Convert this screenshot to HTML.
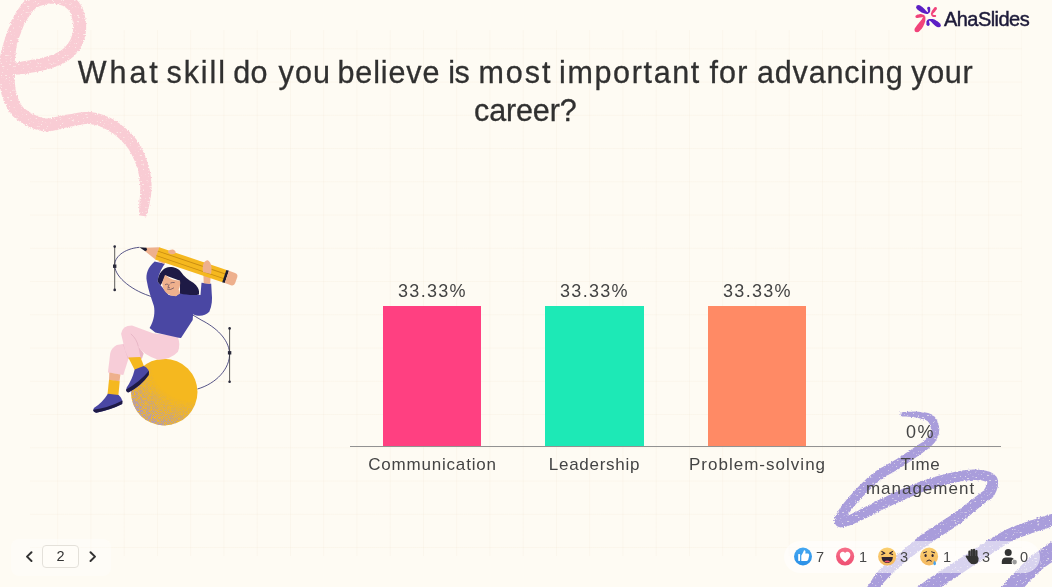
<!DOCTYPE html>
<html lang="en">
<head>
<meta charset="utf-8">
<title>What skill do you believe is most important for advancing your career?</title>
<style>
  html,body{margin:0;padding:0;}
  body{width:1052px;height:587px;overflow:hidden;background:#fefbf3;position:relative;
       font-family:"Liberation Sans",sans-serif;color:#333;}
  .grid{position:absolute;left:30px;top:30px;width:992px;height:526px;
        background-image:linear-gradient(to right,rgba(238,222,200,.17) 1px,transparent 1px),
                         linear-gradient(to bottom,rgba(238,222,200,.17) 1px,transparent 1px);
        background-size:33.25px 33.25px;background-position:-6.05px 18.3px;}
  svg.art{position:absolute;left:0;top:0;}
  h1,.logo,.val,.lab,.cnt,.pbox{will-change:transform;}
  h1{position:absolute;left:0;top:0;width:1052px;height:140px;margin:0;font-weight:400;font-size:30.5px;line-height:36px;color:#303030;-webkit-text-stroke:0.3px #303030;}
  h1 .w{position:absolute;white-space:nowrap;}
  h1 .r1{top:53.8px;}
  h1 .r2{top:91.8px;}
  .logo{position:absolute;left:944px;top:7.6px;font-size:20px;line-height:22px;letter-spacing:-0.55px;color:#1d1a39;
        -webkit-text-stroke:0.45px #1d1a39;}
  .axis{position:absolute;left:350px;top:446px;width:651px;height:1px;background:#929292;}
  .bar{position:absolute;top:306px;width:98.5px;height:140px;}
  .val{position:absolute;width:163px;text-align:center;font-size:18px;line-height:20px;letter-spacing:1.3px;color:#444;}
  .lab{position:absolute;width:163px;text-align:center;font-size:17px;line-height:23.5px;letter-spacing:.6px;color:#444;top:453px;}
  .pager{position:absolute;left:11px;top:539px;width:100px;height:37px;border-radius:8px;background:rgba(255,255,255,.35);}
  .pbox{position:absolute;left:42.3px;top:545.2px;width:37px;height:22.6px;border:1px solid #e4e1da;border-radius:4px;background:#fffdf8;
        box-sizing:border-box;text-align:center;font-size:14.5px;line-height:21px;color:#333;}
  .react{position:absolute;left:784px;top:541px;width:256px;height:32px;border-radius:16px;background:rgba(255,255,255,.55);}
  .cnt{position:absolute;top:548.5px;font-size:14.5px;line-height:17px;color:#484848;}
</style>
</head>
<body>
<div class="grid"></div>

<svg class="art" width="1052" height="587" viewBox="0 0 1052 587">
  <defs>
    <radialGradient id="ballshade" gradientUnits="userSpaceOnUse" cx="190" cy="362" r="74">
      <stop offset="0.52" stop-color="#000"/>
      <stop offset="0.8" stop-color="#999"/>
      <stop offset="0.97" stop-color="#fff"/>
    </radialGradient>
    <mask id="ballmask" maskUnits="userSpaceOnUse" x="130" y="358" width="70" height="70"><rect x="130" y="358" width="70" height="70" fill="url(#ballshade)"/></mask>
    <filter id="grain" x="0" y="0" width="100%" height="100%">
      <feTurbulence type="fractalNoise" baseFrequency="1.3" numOctaves="1" seed="4" result="n"/>
      <feColorMatrix in="n" type="matrix" values="0 0 0 0 0.40  0 0 0 0 0.31  0 0 0 0 0.56  5 0 0 0 -1.9"/>
    </filter>
    <clipPath id="ballclip"><circle cx="164.2" cy="392.1" r="33.3"/></clipPath>
    <filter id="rough" x="-5%" y="-5%" width="110%" height="110%">
      <feTurbulence type="fractalNoise" baseFrequency="0.7" numOctaves="2" seed="3" result="n"/>
      <feDisplacementMap in="SourceGraphic" in2="n" scale="3" xChannelSelector="R" yChannelSelector="G" result="d"/>
      <feTurbulence type="fractalNoise" baseFrequency="0.4 0.65" numOctaves="2" seed="11" result="n2"/>
      <feColorMatrix in="n2" type="matrix" values="0 0 0 0 0  0 0 0 0 0  0 0 0 0 0  -9 0 0 0 6.9" result="h0"/>
      <feComponentTransfer in="h0" result="holes"><feFuncA type="linear" slope="0.6" intercept="0.4"/></feComponentTransfer>
      <feComposite in="d" in2="holes" operator="in"/>
    </filter>
  </defs>
  <!-- pink swirl -->
  <path d="M 11.8 75.0 L 12.4 74.9 L 13.1 74.9 L 13.9 74.8 L 14.8 74.8 L 15.8 74.7 L 17.0 74.6 L 18.2 74.5 L 19.5 74.4 L 20.9 74.3 L 22.4 74.1 L 23.9 73.9 L 25.4 73.7 L 27.0 73.4 L 28.7 73.1 L 30.5 72.8 L 32.4 72.5 L 34.5 72.2 L 36.5 71.8 L 38.6 71.4 L 40.7 71.0 L 42.8 70.5 L 44.8 70.0 L 46.8 69.5 L 48.6 69.0 L 50.4 68.5 L 52.1 67.9 L 53.8 67.4 L 55.5 66.8 L 57.2 66.2 L 58.8 65.5 L 60.5 64.8 L 62.1 64.1 L 63.7 63.3 L 65.2 62.5 L 66.8 61.6 L 68.2 60.7 L 69.7 59.6 L 71.0 58.6 L 72.3 57.5 L 73.6 56.4 L 74.8 55.2 L 75.9 54.0 L 77.0 52.8 L 78.1 51.5 L 79.1 50.2 L 80.0 48.8 L 80.8 47.4 L 81.6 46.0 L 82.4 44.6 L 83.0 43.1 L 83.7 41.6 L 84.2 40.1 L 84.7 38.5 L 85.1 36.9 L 85.4 35.4 L 85.7 33.7 L 85.9 32.1 L 86.1 30.5 L 86.2 28.8 L 86.2 27.2 L 86.2 25.5 L 86.1 23.8 L 85.9 22.0 L 85.7 20.2 L 85.4 18.4 L 85.0 16.6 L 84.6 14.8 L 84.2 13.0 L 83.7 11.3 L 83.1 9.6 L 82.4 8.0 L 81.7 6.4 L 80.8 4.9 L 79.9 3.5 L 78.9 2.2 L 77.9 1.0 L 76.8 -0.1 L 75.6 -1.2 L 74.5 -2.1 L 73.3 -3.0 L 72.1 -3.8 L 70.9 -4.5 L 69.7 -5.2 L 68.5 -5.8 L 67.1 -6.5 L 65.7 -7.0 L 64.3 -7.5 L 62.8 -7.9 L 61.4 -8.3 L 60.0 -8.6 L 58.5 -8.8 L 57.1 -9.0 L 55.7 -9.1 L 54.3 -9.2 L 52.9 -9.3 L 51.5 -9.3 L 50.0 -9.3 L 48.5 -9.2 L 47.1 -9.0 L 45.6 -8.8 L 44.2 -8.6 L 42.8 -8.3 L 41.4 -8.0 L 40.1 -7.6 L 38.8 -7.3 L 37.5 -6.9 L 36.3 -6.5 L 35.2 -6.1 L 34.2 -5.7 L 33.2 -5.3 L 32.2 -4.8 L 31.3 -4.4 L 30.3 -3.8 L 29.4 -3.3 L 28.5 -2.6 L 27.6 -2.0 L 26.8 -1.3 L 26.0 -0.5 L 25.2 0.3 L 24.3 1.2 L 23.4 2.2 L 22.5 3.3 L 21.6 4.4 L 20.7 5.6 L 19.8 6.9 L 19.0 8.1 L 18.1 9.4 L 17.3 10.7 L 16.5 11.9 L 15.7 13.1 L 15.0 14.3 L 14.4 15.5 L 13.7 16.6 L 13.2 17.7 L 12.6 18.8 L 12.1 19.8 L 11.7 20.8 L 11.2 21.8 L 10.8 22.8 L 10.4 23.8 L 10.1 24.8 L 9.7 25.7 L 9.3 26.7 L 8.9 27.7 L 8.5 28.7 L 8.1 29.8 L 7.7 30.9 L 7.3 32.0 L 6.9 33.1 L 6.5 34.3 L 6.0 35.4 L 5.6 36.6 L 5.2 37.8 L 4.8 39.0 L 4.5 40.2 L 4.1 41.3 L 3.7 42.5 L 3.4 43.6 L 3.0 44.8 L 2.7 45.9 L 2.4 47.0 L 2.0 48.1 L 1.7 49.3 L 1.4 50.4 L 1.2 51.5 L 0.9 52.7 L 0.6 53.9 L 0.4 55.1 L 0.2 56.3 L -0.1 57.5 L -0.3 58.8 L -0.5 60.1 L -0.7 61.4 L -0.9 62.8 L -1.1 64.2 L -1.2 65.6 L -1.3 67.0 L -1.4 68.3 L -1.5 69.7 L -1.5 71.1 L -1.5 72.5 L -1.5 73.8 L -1.4 75.1 L -1.3 76.4 L -1.2 77.6 L -1.0 78.8 L -0.8 80.0 L -0.6 81.2 L -0.5 82.3 L -0.3 83.3 L -0.1 84.4 L 0.1 85.3 L 0.2 86.2 L 0.3 87.1 L 0.4 88.0 L 0.5 88.9 L 0.7 89.9 L 0.8 91.0 L 1.0 92.1 L 1.3 93.3 L 1.6 94.6 L 2.0 95.9 L 2.5 97.3 L 3.0 98.6 L 3.5 99.8 L 4.1 101.1 L 4.6 102.5 L 5.2 104.0 L 6.0 105.6 L 6.8 107.3 L 7.7 109.1 L 8.7 110.9 L 10.0 112.7 L 11.3 114.4 L 12.9 116.2 L 14.6 117.8 L 16.4 119.2 L 18.3 120.6 L 20.4 121.9 L 22.5 123.3 L 24.7 124.6 L 27.1 125.8 L 29.4 126.9 L 31.9 128.0 L 34.3 129.0 L 36.8 129.8 L 39.3 130.5 L 41.8 131.0 L 44.4 131.3 L 47.0 131.3 L 49.5 131.2 L 51.8 130.9 L 54.1 130.4 L 56.3 129.9 L 58.4 129.4 L 60.4 128.9 L 62.3 128.3 L 64.2 127.9 L 66.0 127.5 L 67.8 127.2 L 69.8 126.8 L 71.9 126.5 L 74.0 126.1 L 76.0 125.6 L 78.0 125.2 L 79.9 124.9 L 81.7 124.5 L 83.5 124.3 L 85.3 124.1 L 86.9 124.0 L 88.5 124.0 L 90.0 124.1 L 91.6 124.3 L 93.2 124.5 L 94.8 124.9 L 96.4 125.3 L 98.0 125.8 L 99.6 126.3 L 101.2 127.0 L 102.8 127.6 L 104.3 128.4 L 105.9 129.2 L 107.5 130.0 L 109.0 130.9 L 110.5 131.9 L 112.1 132.9 L 113.7 134.1 L 115.2 135.3 L 116.8 136.5 L 118.3 137.8 L 119.8 139.2 L 121.3 140.6 L 122.6 142.0 L 124.0 143.4 L 125.2 144.8 L 126.4 146.2 L 127.4 147.6 L 128.5 149.1 L 129.4 150.6 L 130.4 152.2 L 131.3 153.8 L 132.1 155.5 L 133.0 157.2 L 133.7 158.9 L 134.5 160.6 L 135.2 162.3 L 135.8 164.1 L 136.5 165.8 L 137.0 167.4 L 137.5 169.1 L 137.9 170.7 L 138.3 172.4 L 138.7 174.1 L 139.0 175.8 L 139.3 177.5 L 139.5 179.2 L 139.7 180.8 L 139.9 182.5 L 140.0 184.1 L 140.2 185.7 L 140.2 187.2 L 140.3 188.7 L 140.3 190.2 L 140.2 191.8 L 140.1 193.4 L 140.0 195.0 L 139.9 196.5 L 139.8 198.1 L 139.6 199.6 L 139.5 201.1 L 139.4 202.6 L 139.3 203.9 L 139.3 205.2 L 139.2 206.4 L 139.2 207.5 L 139.2 208.6 L 139.1 209.7 L 139.1 210.7 L 139.0 211.7 L 139.0 212.5 L 139.0 213.4 L 138.9 214.1 L 138.9 214.8 L 138.9 215.3 L 146.3 216.5 L 146.4 216.0 L 146.6 215.4 L 146.8 214.7 L 147.1 213.9 L 147.3 213.0 L 147.6 212.1 L 147.9 211.1 L 148.2 210.0 L 148.5 208.8 L 148.8 207.6 L 149.0 206.3 L 149.3 205.1 L 149.5 203.8 L 149.8 202.5 L 150.0 201.0 L 150.3 199.5 L 150.6 197.9 L 150.9 196.2 L 151.1 194.5 L 151.3 192.7 L 151.5 190.8 L 151.6 188.9 L 151.7 187.0 L 151.6 185.1 L 151.5 183.3 L 151.4 181.4 L 151.2 179.5 L 151.0 177.6 L 150.7 175.7 L 150.4 173.8 L 150.0 171.8 L 149.6 169.9 L 149.1 167.9 L 148.6 166.0 L 148.0 164.0 L 147.3 162.0 L 146.7 160.1 L 146.0 158.2 L 145.3 156.3 L 144.5 154.3 L 143.6 152.3 L 142.7 150.3 L 141.8 148.4 L 140.7 146.4 L 139.6 144.4 L 138.4 142.5 L 137.2 140.6 L 135.8 138.8 L 134.4 137.0 L 132.9 135.3 L 131.3 133.6 L 129.7 132.0 L 128.0 130.3 L 126.2 128.8 L 124.4 127.2 L 122.6 125.8 L 120.8 124.4 L 118.9 123.1 L 117.1 121.8 L 115.2 120.7 L 113.4 119.6 L 111.5 118.6 L 109.6 117.6 L 107.7 116.7 L 105.7 115.9 L 103.7 115.1 L 101.7 114.4 L 99.7 113.8 L 97.6 113.3 L 95.5 112.8 L 93.4 112.4 L 91.2 112.1 L 88.9 112.0 L 86.6 111.9 L 84.4 112.0 L 82.1 112.2 L 80.0 112.5 L 77.8 112.8 L 75.7 113.2 L 73.7 113.5 L 71.7 113.9 L 69.7 114.2 L 67.8 114.6 L 65.8 114.8 L 63.7 115.2 L 61.4 115.6 L 59.3 116.1 L 57.3 116.6 L 55.3 117.1 L 53.4 117.5 L 51.6 117.9 L 49.9 118.2 L 48.3 118.4 L 46.8 118.4 L 45.4 118.4 L 44.0 118.2 L 42.4 117.8 L 40.7 117.3 L 38.9 116.7 L 37.0 115.9 L 35.0 115.0 L 33.1 114.0 L 31.2 113.0 L 29.4 111.9 L 27.7 110.8 L 26.1 109.7 L 24.7 108.6 L 23.6 107.6 L 22.7 106.8 L 21.9 105.8 L 21.2 104.8 L 20.6 103.8 L 20.0 102.6 L 19.4 101.4 L 18.9 100.1 L 18.4 98.8 L 18.0 97.4 L 17.5 96.0 L 17.0 94.6 L 16.6 93.4 L 16.2 92.4 L 16.0 91.6 L 15.8 90.9 L 15.7 90.2 L 15.6 89.6 L 15.5 88.9 L 15.4 88.1 L 15.3 87.3 L 15.2 86.4 L 15.2 85.5 L 15.1 84.4 L 14.9 83.3 L 14.8 82.2 L 14.7 81.1 L 14.5 80.1 L 14.4 79.1 L 14.3 78.1 L 14.2 77.1 L 14.1 76.1 L 14.1 75.1 L 14.0 74.1 L 14.0 73.2 L 13.9 72.2 L 13.9 71.3 L 14.0 70.3 L 14.0 69.2 L 14.1 68.1 L 14.2 67.0 L 14.3 65.8 L 14.4 64.6 L 14.5 63.4 L 14.7 62.2 L 14.8 60.9 L 14.9 59.7 L 15.1 58.5 L 15.2 57.3 L 15.3 56.2 L 15.5 55.1 L 15.6 54.0 L 15.7 53.0 L 15.8 52.0 L 15.9 50.9 L 16.0 49.9 L 16.2 48.9 L 16.3 47.9 L 16.5 46.9 L 16.7 45.9 L 16.9 44.9 L 17.2 43.8 L 17.4 42.8 L 17.7 41.8 L 18.1 40.7 L 18.4 39.7 L 18.8 38.6 L 19.1 37.5 L 19.5 36.5 L 19.9 35.4 L 20.3 34.4 L 20.7 33.4 L 21.1 32.3 L 21.4 31.3 L 21.8 30.4 L 22.2 29.4 L 22.5 28.5 L 22.9 27.7 L 23.2 26.9 L 23.5 26.1 L 23.9 25.3 L 24.3 24.5 L 24.7 23.7 L 25.1 22.8 L 25.6 21.9 L 26.2 21.0 L 26.8 19.9 L 27.5 18.8 L 28.2 17.7 L 29.0 16.6 L 29.7 15.5 L 30.5 14.4 L 31.2 13.3 L 31.9 12.3 L 32.6 11.4 L 33.3 10.7 L 33.9 10.0 L 34.4 9.4 L 35.0 8.9 L 35.4 8.5 L 35.8 8.1 L 36.2 7.8 L 36.6 7.6 L 36.9 7.4 L 37.3 7.1 L 37.8 6.9 L 38.4 6.7 L 39.0 6.4 L 39.8 6.1 L 40.6 5.8 L 41.5 5.5 L 42.4 5.2 L 43.4 4.9 L 44.5 4.7 L 45.5 4.4 L 46.6 4.2 L 47.6 4.0 L 48.7 3.9 L 49.7 3.8 L 50.6 3.7 L 51.5 3.7 L 52.5 3.7 L 53.5 3.8 L 54.6 3.8 L 55.6 3.9 L 56.6 4.1 L 57.6 4.2 L 58.6 4.4 L 59.5 4.7 L 60.4 4.9 L 61.2 5.2 L 62.0 5.5 L 62.7 5.8 L 63.5 6.2 L 64.3 6.7 L 65.1 7.2 L 65.8 7.6 L 66.5 8.2 L 67.1 8.7 L 67.7 9.2 L 68.3 9.8 L 68.8 10.4 L 69.3 11.0 L 69.7 11.7 L 70.1 12.4 L 70.5 13.2 L 70.9 14.2 L 71.3 15.3 L 71.7 16.5 L 72.0 17.8 L 72.3 19.2 L 72.6 20.6 L 72.8 22.0 L 73.0 23.4 L 73.1 24.7 L 73.2 26.0 L 73.2 27.2 L 73.2 28.3 L 73.1 29.5 L 73.0 30.6 L 72.8 31.7 L 72.6 32.8 L 72.4 33.9 L 72.1 35.0 L 71.8 36.0 L 71.4 37.0 L 71.1 38.0 L 70.6 39.0 L 70.2 40.0 L 69.6 40.9 L 69.1 41.8 L 68.5 42.8 L 67.8 43.7 L 67.1 44.6 L 66.4 45.5 L 65.6 46.4 L 64.8 47.3 L 64.0 48.1 L 63.1 48.9 L 62.1 49.6 L 61.2 50.3 L 60.2 51.0 L 59.1 51.6 L 58.0 52.3 L 56.8 52.8 L 55.5 53.4 L 54.2 54.0 L 52.8 54.5 L 51.3 55.0 L 49.9 55.5 L 48.3 56.0 L 46.7 56.5 L 45.2 57.0 L 43.5 57.5 L 41.8 57.9 L 40.0 58.3 L 38.1 58.7 L 36.2 59.1 L 34.2 59.5 L 32.3 59.8 L 30.3 60.2 L 28.4 60.5 L 26.6 60.8 L 24.9 61.1 L 23.4 61.3 L 22.0 61.6 L 20.7 61.8 L 19.4 62.0 L 18.1 62.1 L 16.9 62.3 L 15.8 62.4 L 14.7 62.6 L 13.8 62.7 L 12.8 62.8 L 12.0 62.9 L 11.2 63.0 L 10.6 63.0 Z" fill="#f9ccd4" filter="url(#rough)"/>
  <!-- purple squiggle -->
  <g fill="#a99ddb" stroke="none" filter="url(#rough)">
    <path d="M 900.6 416.3 L 901.4 416.4 L 902.5 416.4 L 903.7 416.5 L 905.1 416.6 L 906.5 416.6 L 908.1 416.7 L 909.6 416.8 L 911.2 416.9 L 912.8 417.1 L 914.2 417.2 L 915.6 417.4 L 916.8 417.6 L 918.0 417.9 L 919.2 418.2 L 920.4 418.4 L 921.6 418.7 L 922.7 419.0 L 923.8 419.4 L 924.8 419.7 L 925.7 420.1 L 926.5 420.5 L 927.1 420.8 L 927.6 421.2 L 928.0 421.6 L 928.4 422.0 L 928.7 422.4 L 929.1 423.0 L 929.4 423.6 L 929.7 424.2 L 930.0 424.9 L 930.2 425.7 L 930.4 426.4 L 930.6 427.2 L 930.7 427.9 L 930.8 428.6 L 930.8 429.3 L 930.7 430.0 L 930.7 430.7 L 930.6 431.4 L 930.4 432.1 L 930.2 432.8 L 929.9 433.6 L 929.6 434.3 L 929.3 435.1 L 928.9 435.9 L 928.4 436.6 L 927.9 437.4 L 927.3 438.1 L 926.7 438.8 L 926.0 439.4 L 925.2 440.1 L 924.3 440.8 L 923.3 441.5 L 922.3 442.3 L 921.1 443.0 L 919.9 443.8 L 918.7 444.6 L 917.4 445.5 L 916.0 446.4 L 914.6 447.3 L 913.2 448.3 L 911.8 449.2 L 910.3 450.2 L 908.8 451.2 L 907.2 452.3 L 905.6 453.3 L 904.0 454.4 L 902.3 455.4 L 900.6 456.5 L 898.9 457.6 L 897.2 458.7 L 895.5 459.7 L 893.8 460.7 L 892.1 461.7 L 890.3 462.7 L 888.5 463.7 L 886.6 464.7 L 884.7 465.8 L 882.7 466.9 L 880.7 468.0 L 878.7 469.3 L 876.7 470.6 L 874.7 472.0 L 872.6 473.5 L 870.6 475.2 L 868.6 477.0 L 866.5 478.8 L 864.5 480.8 L 862.4 482.8 L 860.4 484.8 L 858.4 486.8 L 856.5 488.8 L 854.6 490.7 L 852.9 492.6 L 851.3 494.4 L 849.7 496.1 L 848.3 497.7 L 846.9 499.3 L 845.6 500.9 L 844.3 502.4 L 843.2 503.9 L 842.0 505.3 L 841.0 506.7 L 840.1 508.1 L 839.2 509.4 L 838.4 510.6 L 837.7 511.8 L 837.0 512.9 L 836.4 513.9 L 835.9 514.9 L 835.4 515.9 L 835.0 516.9 L 834.7 517.9 L 834.4 519.0 L 834.2 520.2 L 834.2 521.7 L 834.6 523.4 L 835.7 525.1 L 837.2 526.3 L 838.8 527.0 L 840.1 527.2 L 841.3 527.3 L 842.4 527.2 L 843.6 527.1 L 844.8 526.9 L 846.0 526.6 L 847.3 526.2 L 848.7 525.8 L 850.2 525.2 L 851.8 524.6 L 853.6 523.9 L 855.5 523.1 L 857.5 522.2 L 859.8 521.1 L 862.2 520.0 L 864.8 518.7 L 867.4 517.4 L 870.2 516.0 L 873.0 514.5 L 875.9 513.1 L 878.8 511.6 L 881.7 510.1 L 884.6 508.7 L 887.5 507.4 L 890.5 506.0 L 893.6 504.6 L 896.7 503.1 L 899.9 501.7 L 903.1 500.2 L 906.4 498.8 L 909.6 497.3 L 912.9 495.9 L 916.1 494.6 L 919.2 493.3 L 922.3 492.1 L 925.3 491.0 L 928.3 490.0 L 931.3 489.0 L 934.4 488.0 L 937.4 487.1 L 940.5 486.2 L 943.4 485.4 L 946.4 484.6 L 949.2 483.9 L 952.0 483.3 L 954.7 482.7 L 957.2 482.1 L 959.6 481.7 L 961.8 481.3 L 963.9 480.9 L 966.0 480.7 L 967.9 480.4 L 969.7 480.3 L 971.5 480.2 L 973.2 480.1 L 974.7 480.1 L 976.2 480.1 L 977.7 480.2 L 979.0 480.3 L 980.3 480.4 L 981.5 480.6 L 982.7 480.8 L 983.7 481.0 L 984.7 481.2 L 985.5 481.5 L 986.2 481.7 L 986.8 482.0 L 987.3 482.3 L 987.5 482.5 L 987.7 482.6 L 987.7 482.6 L 987.6 482.5 L 987.5 482.3 L 987.5 482.3 L 987.4 482.6 L 987.3 483.1 L 987.1 483.8 L 986.8 484.6 L 986.5 485.4 L 986.1 486.3 L 985.6 487.1 L 985.2 488.0 L 984.7 488.7 L 984.4 489.3 L 984.1 489.8 L 983.9 490.1 L 983.7 490.3 L 983.5 490.6 L 983.2 490.9 L 982.8 491.3 L 982.2 491.7 L 981.4 492.3 L 980.5 493.0 L 979.4 493.8 L 978.1 494.8 L 976.7 495.9 L 975.2 497.1 L 973.5 498.4 L 971.7 499.8 L 969.7 501.4 L 967.6 502.9 L 965.5 504.6 L 963.3 506.2 L 961.0 507.9 L 958.7 509.6 L 956.5 511.2 L 954.2 512.9 L 952.0 514.4 L 949.8 516.0 L 947.5 517.5 L 945.1 519.0 L 942.7 520.6 L 940.2 522.2 L 937.7 523.8 L 935.2 525.4 L 932.6 527.0 L 930.2 528.7 L 927.7 530.3 L 925.3 532.0 L 923.0 533.6 L 920.8 535.3 L 918.7 536.9 L 916.6 538.6 L 914.5 540.2 L 912.5 541.9 L 910.6 543.6 L 908.7 545.2 L 906.8 546.8 L 904.9 548.4 L 903.1 550.0 L 901.3 551.5 L 899.5 553.1 L 897.6 554.5 L 895.8 556.0 L 894.0 557.5 L 892.1 558.9 L 890.3 560.4 L 888.5 561.8 L 886.8 563.2 L 885.1 564.6 L 883.5 566.0 L 881.9 567.4 L 880.4 568.7 L 879.1 570.1 L 877.8 571.4 L 876.7 572.8 L 875.6 574.1 L 874.7 575.3 L 873.9 576.6 L 873.1 577.8 L 872.4 578.9 L 871.8 580.0 L 871.2 581.0 L 870.6 582.0 L 870.0 583.0 L 869.3 583.9 L 868.6 585.0 L 867.9 586.1 L 867.1 587.2 L 866.4 588.2 L 865.6 589.3 L 864.9 590.4 L 864.2 591.4 L 863.6 592.3 L 863.0 593.1 L 862.5 593.9 L 862.0 594.5 L 861.7 595.0 L 870.3 601.0 L 870.7 600.4 L 871.1 599.8 L 871.7 599.0 L 872.2 598.1 L 872.8 597.2 L 873.5 596.2 L 874.2 595.2 L 874.9 594.2 L 875.6 593.1 L 876.4 592.1 L 877.1 591.1 L 877.9 590.1 L 878.6 589.0 L 879.4 588.0 L 880.1 587.0 L 880.9 586.1 L 881.6 585.1 L 882.3 584.2 L 883.0 583.3 L 883.8 582.4 L 884.6 581.4 L 885.5 580.4 L 886.5 579.4 L 887.5 578.3 L 888.7 577.1 L 890.0 575.9 L 891.3 574.5 L 892.7 573.1 L 894.2 571.7 L 895.8 570.2 L 897.4 568.7 L 899.1 567.2 L 900.8 565.7 L 902.6 564.2 L 904.4 562.6 L 906.1 561.1 L 908.0 559.7 L 909.8 558.2 L 911.7 556.7 L 913.6 555.2 L 915.6 553.8 L 917.5 552.3 L 919.5 550.8 L 921.6 549.4 L 923.6 547.9 L 925.7 546.4 L 927.8 544.9 L 930.0 543.4 L 932.2 541.9 L 934.4 540.4 L 936.8 538.8 L 939.2 537.3 L 941.7 535.7 L 944.2 534.1 L 946.8 532.5 L 949.3 530.8 L 951.8 529.2 L 954.2 527.5 L 956.7 525.9 L 959.0 524.2 L 961.3 522.4 L 963.6 520.7 L 965.9 518.8 L 968.1 517.0 L 970.3 515.1 L 972.5 513.3 L 974.6 511.5 L 976.6 509.8 L 978.4 508.2 L 980.2 506.7 L 981.8 505.3 L 983.3 504.1 L 984.5 503.2 L 985.6 502.4 L 986.5 501.8 L 987.4 501.2 L 988.2 500.8 L 989.1 500.3 L 989.9 499.8 L 990.8 499.1 L 991.7 498.4 L 992.5 497.5 L 993.3 496.6 L 994.1 495.5 L 994.7 494.4 L 995.3 493.2 L 995.9 492.0 L 996.5 490.7 L 996.9 489.3 L 997.4 487.9 L 997.7 486.4 L 998.0 484.9 L 998.1 483.3 L 998.1 481.7 L 997.8 479.9 L 997.2 478.1 L 996.3 476.6 L 995.2 475.4 L 994.1 474.3 L 992.9 473.5 L 991.6 472.7 L 990.3 472.1 L 988.9 471.6 L 987.5 471.2 L 986.1 470.8 L 984.6 470.5 L 983.1 470.2 L 981.5 470.0 L 979.9 469.8 L 978.3 469.7 L 976.6 469.6 L 974.8 469.6 L 972.9 469.6 L 971.0 469.7 L 969.0 469.8 L 966.9 470.0 L 964.7 470.2 L 962.4 470.5 L 960.1 470.9 L 957.6 471.3 L 955.1 471.8 L 952.4 472.4 L 949.6 473.0 L 946.7 473.7 L 943.8 474.4 L 940.7 475.2 L 937.6 476.1 L 934.5 477.0 L 931.3 478.0 L 928.1 479.0 L 924.9 480.0 L 921.8 481.1 L 918.6 482.3 L 915.4 483.5 L 912.1 484.9 L 908.8 486.2 L 905.4 487.7 L 902.1 489.1 L 898.8 490.6 L 895.5 492.1 L 892.3 493.6 L 889.1 495.0 L 886.1 496.5 L 883.1 497.9 L 880.1 499.3 L 877.1 500.8 L 874.1 502.3 L 871.2 503.8 L 868.3 505.3 L 865.4 506.8 L 862.7 508.3 L 860.1 509.6 L 857.7 510.9 L 855.4 512.1 L 853.3 513.1 L 851.4 514.0 L 849.7 514.8 L 848.1 515.4 L 846.7 516.0 L 845.4 516.5 L 844.3 516.9 L 843.3 517.3 L 842.5 517.5 L 841.9 517.6 L 841.5 517.7 L 841.2 517.8 L 841.1 517.8 L 841.3 517.8 L 842.0 518.1 L 842.9 518.8 L 843.5 519.9 L 843.8 520.7 L 843.8 521.2 L 843.8 521.3 L 843.9 521.1 L 844.1 520.7 L 844.4 520.1 L 844.7 519.5 L 845.1 518.7 L 845.6 517.9 L 846.2 517.0 L 846.8 516.0 L 847.5 515.0 L 848.3 513.8 L 849.2 512.6 L 850.1 511.4 L 851.1 510.0 L 852.2 508.7 L 853.3 507.2 L 854.5 505.8 L 855.8 504.3 L 857.1 502.8 L 858.6 501.2 L 860.2 499.4 L 861.9 497.6 L 863.7 495.7 L 865.6 493.8 L 867.5 491.8 L 869.5 489.9 L 871.4 488.0 L 873.3 486.2 L 875.2 484.5 L 877.1 482.8 L 878.9 481.4 L 880.6 480.0 L 882.3 478.8 L 884.1 477.6 L 885.9 476.4 L 887.7 475.3 L 889.5 474.3 L 891.3 473.2 L 893.2 472.2 L 895.1 471.1 L 896.9 470.0 L 898.8 468.9 L 900.6 467.8 L 902.3 466.6 L 904.1 465.5 L 905.8 464.4 L 907.4 463.2 L 909.1 462.1 L 910.7 461.0 L 912.3 459.9 L 913.9 458.8 L 915.5 457.7 L 916.9 456.7 L 918.4 455.7 L 919.8 454.7 L 921.1 453.8 L 922.3 452.9 L 923.6 452.0 L 924.9 451.1 L 926.1 450.2 L 927.3 449.4 L 928.5 448.5 L 929.6 447.6 L 930.8 446.6 L 931.8 445.7 L 932.9 444.6 L 933.8 443.5 L 934.7 442.4 L 935.5 441.3 L 936.2 440.1 L 936.8 439.0 L 937.4 437.8 L 937.9 436.6 L 938.3 435.4 L 938.7 434.2 L 938.9 433.0 L 939.1 431.8 L 939.2 430.5 L 939.3 429.3 L 939.2 428.1 L 939.1 426.9 L 938.9 425.6 L 938.6 424.4 L 938.3 423.2 L 937.8 421.9 L 937.3 420.7 L 936.7 419.5 L 935.9 418.4 L 935.1 417.3 L 934.2 416.3 L 933.1 415.4 L 931.9 414.6 L 930.7 414.0 L 929.4 413.4 L 928.1 413.0 L 926.8 412.7 L 925.5 412.5 L 924.1 412.3 L 922.8 412.1 L 921.5 412.0 L 920.2 411.9 L 918.9 411.8 L 917.6 411.7 L 916.1 411.6 L 914.6 411.6 L 913.0 411.6 L 911.3 411.7 L 909.7 411.7 L 908.0 411.8 L 906.5 411.9 L 905.0 412.0 L 903.6 412.1 L 902.4 412.2 L 901.4 412.3 L 900.6 412.3 Z"/>
    <path d="M 1062.4 511.0 L 1061.9 511.1 L 1061.3 511.3 L 1060.6 511.4 L 1059.8 511.6 L 1058.9 511.9 L 1057.9 512.1 L 1056.8 512.4 L 1055.7 512.7 L 1054.4 513.1 L 1053.1 513.5 L 1051.7 513.9 L 1050.2 514.3 L 1048.6 514.8 L 1046.9 515.3 L 1045.0 515.9 L 1043.1 516.5 L 1041.0 517.1 L 1038.9 517.8 L 1036.7 518.5 L 1034.5 519.2 L 1032.3 519.9 L 1030.1 520.6 L 1027.9 521.4 L 1025.9 522.1 L 1024.0 522.8 L 1022.2 523.4 L 1020.4 524.0 L 1018.7 524.6 L 1016.9 525.2 L 1015.0 525.9 L 1013.0 526.6 L 1010.9 527.5 L 1008.7 528.5 L 1006.3 529.6 L 1003.7 530.9 L 1000.9 532.4 L 997.8 534.2 L 994.4 536.2 L 990.9 538.4 L 987.1 540.8 L 983.2 543.3 L 979.3 545.8 L 975.3 548.4 L 971.4 551.0 L 967.6 553.5 L 963.9 555.9 L 960.5 558.1 L 957.3 560.1 L 954.3 562.1 L 951.4 563.9 L 948.6 565.7 L 945.9 567.5 L 943.3 569.2 L 940.7 570.8 L 938.3 572.4 L 935.9 573.9 L 933.7 575.4 L 931.5 576.8 L 929.5 578.2 L 927.5 579.6 L 925.6 580.9 L 923.8 582.2 L 922.1 583.4 L 920.5 584.6 L 919.0 585.7 L 917.6 586.8 L 916.3 587.8 L 915.2 588.8 L 914.1 589.6 L 913.2 590.3 L 912.4 590.9 L 911.7 591.4 L 920.3 602.6 L 921.0 602.0 L 921.9 601.3 L 922.8 600.6 L 923.8 599.8 L 925.0 598.9 L 926.2 597.9 L 927.5 596.9 L 928.9 595.8 L 930.5 594.7 L 932.0 593.5 L 933.7 592.3 L 935.5 591.0 L 937.4 589.7 L 939.4 588.4 L 941.4 586.9 L 943.6 585.5 L 945.9 583.9 L 948.3 582.3 L 950.8 580.6 L 953.4 578.9 L 956.1 577.1 L 958.8 575.3 L 961.7 573.4 L 964.7 571.5 L 967.9 569.3 L 971.3 567.1 L 975.0 564.6 L 978.7 562.1 L 982.6 559.5 L 986.5 556.9 L 990.4 554.3 L 994.2 551.9 L 997.9 549.5 L 1001.3 547.4 L 1004.5 545.4 L 1007.3 543.8 L 1009.8 542.3 L 1012.1 541.1 L 1014.2 540.1 L 1016.1 539.2 L 1017.8 538.4 L 1019.5 537.7 L 1021.2 537.1 L 1022.8 536.5 L 1024.5 535.9 L 1026.3 535.3 L 1028.2 534.6 L 1030.1 533.9 L 1032.1 533.1 L 1034.2 532.4 L 1036.2 531.7 L 1038.4 531.0 L 1040.5 530.3 L 1042.6 529.7 L 1044.7 529.0 L 1046.7 528.4 L 1048.6 527.8 L 1050.5 527.3 L 1052.2 526.8 L 1053.8 526.3 L 1055.2 525.9 L 1056.6 525.5 L 1057.8 525.1 L 1059.0 524.8 L 1060.1 524.5 L 1061.1 524.2 L 1062.0 524.0 L 1062.9 523.7 L 1063.7 523.5 L 1064.4 523.4 L 1065.1 523.2 L 1065.6 523.0 Z"/>
    <path d="M 1058.9 536.2 L 1058.4 536.6 L 1057.7 537.1 L 1056.9 537.7 L 1056.0 538.3 L 1055.1 539.0 L 1054.1 539.8 L 1053.0 540.6 L 1051.8 541.5 L 1050.7 542.3 L 1049.4 543.2 L 1048.2 544.1 L 1047.0 545.0 L 1045.8 545.9 L 1044.6 546.7 L 1043.2 547.7 L 1041.8 548.6 L 1040.2 549.7 L 1038.6 550.7 L 1037.0 551.9 L 1035.3 553.1 L 1033.5 554.4 L 1031.7 555.8 L 1029.9 557.3 L 1028.1 558.9 L 1026.3 560.6 L 1024.4 562.4 L 1022.5 564.3 L 1020.5 566.3 L 1018.6 568.4 L 1016.6 570.4 L 1014.7 572.5 L 1012.9 574.5 L 1011.1 576.4 L 1009.5 578.2 L 1008.0 579.8 L 1006.7 581.3 L 1005.4 582.7 L 1004.3 584.0 L 1003.2 585.3 L 1002.2 586.5 L 1001.3 587.6 L 1000.5 588.6 L 999.8 589.5 L 999.1 590.4 L 998.6 591.1 L 998.1 591.7 L 997.7 592.2 L 997.4 592.7 L 1010.6 603.3 L 1011.1 602.8 L 1011.6 602.1 L 1012.1 601.4 L 1012.6 600.7 L 1013.2 599.9 L 1013.9 599.1 L 1014.6 598.2 L 1015.4 597.3 L 1016.2 596.2 L 1017.2 595.1 L 1018.2 594.0 L 1019.3 592.7 L 1020.6 591.2 L 1022.1 589.6 L 1023.7 587.8 L 1025.4 586.0 L 1027.2 584.0 L 1029.0 582.0 L 1030.9 580.1 L 1032.7 578.1 L 1034.6 576.3 L 1036.3 574.5 L 1038.0 572.9 L 1039.5 571.5 L 1040.9 570.3 L 1042.4 569.1 L 1043.8 567.9 L 1045.3 566.8 L 1046.8 565.8 L 1048.3 564.8 L 1049.7 563.7 L 1051.2 562.8 L 1052.7 561.8 L 1054.2 560.8 L 1055.6 559.8 L 1057.0 558.8 L 1058.3 557.8 L 1059.5 556.9 L 1060.8 556.0 L 1062.0 555.1 L 1063.1 554.3 L 1064.2 553.4 L 1065.2 552.7 L 1066.2 552.0 L 1067.1 551.3 L 1067.8 550.7 L 1068.5 550.2 L 1069.1 549.8 Z"/>
  </g>
  
<!-- bezier curve + handles -->
<path fill="none" stroke="#2b2a6b" stroke-width="0.8" d="M 139.4 247.3 C 124 248.7 113.8 257.2 114.7 266.2 C 115.6 277.6 132.6 291.2 153 297 C 170 303 185 310 201.2 320 C 216 327.5 228.3 338.7 229.6 352.8 C 230.2 368.7 216.1 383.7 197.4 389"/>
<g stroke="#333" stroke-width="0.8">
  <path d="M 114.7 246.6 L 114.7 289.9"/>
  <path d="M 229.6 328.4 L 229.6 381.8"/>
</g>
<g fill="#2a2a3a">
  <circle cx="114.7" cy="246.6" r="1.3"/><circle cx="114.7" cy="289.9" r="1.3"/>
  <rect x="113" y="264.5" width="3.4" height="3.4"/>
  <circle cx="229.6" cy="328.4" r="1.3"/><circle cx="229.6" cy="381.8" r="1.3"/>
  <rect x="227.9" y="351.1" width="3.4" height="3.4"/>
</g>

<!-- ball -->
<circle cx="164.2" cy="392.1" r="33.3" fill="#f5b81f"/>
<g clip-path="url(#ballclip)">
  <rect x="130" y="358" width="70" height="70" fill="#66508f" filter="url(#grain)" mask="url(#ballmask)"/>
</g>

<!-- back leg (leg B) -->
<path fill="#f7cdd8" d="M 125.8 343.6 L 116.8 345.0 Q 111.1 348.1 110.2 353.5 L 107.9 372.6 L 123.3 375.1 L 128.5 358.8 Z"/>
<path fill="#e9b6c6" d="M 123.1 344.5 L 138.3 346.3 L 143.7 353.5 L 141.9 358.8 L 127.9 358.8 Z"/>
<path fill="#eeb08d" d="M 109.3 372.6 L 120.4 374.6 L 119.5 381.5 L 109.0 380.3 Z"/>
<path fill="#f5b81f" d="M 109.0 379.7 L 119.7 381.2 L 118.3 396.4 L 107.5 394.6 Z"/>
<path fill="#4a47a3" d="M 107.9 393.7 L 118.6 395.1 Q 123.1 399.1 122.2 403.9 Q 111.5 409.4 96.3 412.7 Q 92.1 411.6 93.9 408.0 Q 102.5 402.6 107.9 393.7 Z"/>
<path fill="#1e1a45" d="M 122.2 403.9 Q 111.5 409.4 96.3 412.7 Q 92.9 411.9 93.2 409.8 Q 107.9 408.0 122.6 400.5 Z"/>

<!-- front leg (leg A) -->
<path fill="#f7cdd8" d="M 153.0 333.2 L 132.0 325.4 Q 122.2 325.4 121.1 333.8 L 125.1 350.8 L 128.3 357.9 L 140.4 357.2 L 138.3 346.5 Q 143.7 355.2 158.0 359.7 Q 170.5 359.7 178.0 351.7 Q 180.9 343.6 177.3 336.1 Z"/>
<path fill="none" stroke="#d9a0b4" stroke-width="0.5" d="M 130.8 333.8 Q 136.9 339.1 138.3 346.5"/>
<path fill="#f5b81f" d="M 128.3 357.6 L 140.4 356.9 L 144.6 367.8 L 135.1 370.8 Z"/>
<path fill="#4a47a3" d="M 134.7 369.6 L 143.7 366.0 Q 149.9 368.7 148.7 374.9 Q 141.9 384.8 128.5 392.3 Q 125.4 391.0 126.7 387.4 Q 132.0 380.3 134.7 369.6 Z"/>
<path fill="#1e1a45" d="M 148.7 374.9 Q 141.9 385.1 128.5 392.6 Q 125.8 391.9 126.1 389.4 Q 139.2 382.6 149.0 370.8 Z"/>

<!-- torso + sleeves -->
<path fill="#4a47a3" d="M 154.6 261.5 C 148 267 145.5 274 146.8 281 C 148 289 151 297 153.9 306 C 155 312 154.5 320 149.6 328 L 155.3 332.4 L 178.7 337.8 L 181 338 L 192.7 320 L 193.1 314.2 C 199 317 205 316 209.3 311.7 C 212 306 212.5 299 211.7 293 L 211.2 283.7 L 201.5 282.7 L 200.5 295 L 180 293 L 175.9 296 L 168.7 295 L 157.7 281.7 C 158 276 161 269 164.9 263.8 Z"/>
<!-- neck -->
<path fill="#eeb08d" d="M 169.3 293.8 L 170.3 295.6 L 175.9 296.3 L 180.2 293.2 L 179.0 289.4 Z"/>
<!-- left wrist -->
<path fill="#eeb08d" d="M 158.3 261.5 L 164.5 263.9 L 166.2 260.2 L 161.1 258.2 Z"/>
<!-- right forearm -->
<path fill="#eeb08d" d="M 203.7 283.3 L 210.2 283.9 L 210.9 273.5 L 203.3 271.5 Z"/>

<!-- hair -->
<path fill="#1e1a45" d="M 157.7 281.7 C 158.0 275.6 160.6 270.5 165.7 267.9 C 170.8 265.9 178.0 267.9 181.0 272.0 C 184.1 276.6 188.2 279.7 193.3 282.7 C 197.4 285.8 199.9 289.9 198.9 294.5 C 195.3 295.5 186.1 295.0 180.0 293.5 L 180.0 280.7 L 165.7 275.6 L 162.1 282.7 L 160.6 285.3 Z"/>
<!-- face -->
<path fill="#eeb08d" d="M 164.7 275.6 L 162.1 282.7 C 162.4 287.8 164.7 292.4 168.7 294.2 C 171.8 295.0 175.9 293.5 178.5 289.9 C 180.0 286.8 180.5 283.7 180.0 280.7 C 175.9 280.7 169.8 279.7 165.7 275.1 Z"/>
<g fill="none" stroke="#1e1a45" stroke-width="0.5" stroke-linecap="round">
  <path d="M 167.5 289.2 Q 170.8 290.5 173.7 288.0"/>
  <path d="M 165.3 284.6 Q 166.5 283.7 167.9 284.2"/><path d="M 170.8 282.9 Q 172.4 282.1 174.3 282.5"/>
  <path d="M 169.0 284.8 L 167.9 287.3 L 169.4 287.6"/>
</g>

<!-- pencil -->
<g transform="translate(139.4 247.3) rotate(18.74) scale(0.17039)">
  <polygon points="35,-9 112,-38 112,38 35,9" fill="#eeb08d"/>
  <polygon points="0,0 40,-11 48,0 40,11" fill="#1c1b2e"/>
  <rect x="110" y="-38" width="418" height="76" fill="#f5b81f"/>
  <rect x="110" y="-16" width="418" height="5" fill="#c98d12"/>
  <rect x="110" y="12" width="418" height="5" fill="#c98d12"/>
  <rect x="526" y="-38" width="16" height="76" fill="#1c1b2e"/>
  <path d="M 542 -38 L 580 -38 Q 600 -38 600 -18 L 600 18 Q 600 38 580 38 L 542 38 Z" fill="#eeb08d"/>
</g>
<!-- fingers over pencil -->
<path fill="#eeb08d" d="M 167.9 251.8 Q 169.3 249.2 173.0 249.4 Q 176.1 250.6 175.5 253.3 Q 173.4 254.6 170.3 253.9 Q 168.2 253.3 167.9 251.8 Z"/>
<path fill="#eeb08d" d="M 203.0 272.0 C 201.7 265.3 204.0 260.2 207.8 260.2 C 211.5 262.1 212.3 268.4 210.9 274.0 Z"/>

</svg>

<h1><span class="w r1" style="left:77.8px;letter-spacing:2.93px">What</span> <span class="w r1" style="left:166.5px;letter-spacing:1.90px">skill</span> <span class="w r1" style="left:233.2px;letter-spacing:0.30px">do</span> <span class="w r1" style="left:278.4px;letter-spacing:1.25px">you</span> <span class="w r1" style="left:337.5px;letter-spacing:0.88px">believe</span> <span class="w r1" style="left:448.2px;letter-spacing:-0.50px">is</span> <span class="w r1" style="left:478.4px;letter-spacing:1.97px">most</span> <span class="w r1" style="left:559.0px;letter-spacing:1.65px">important</span> <span class="w r1" style="left:709.5px;letter-spacing:1.15px">for</span> <span class="w r1" style="left:757.0px;letter-spacing:0.83px">advancing</span> <span class="w r1" style="left:911.2px;letter-spacing:0.70px">your</span> <span class="w r2" style="left:474.1px;letter-spacing:-0.15px">career?</span></h1>

<!-- logo -->
<svg class="art" width="1052" height="40" viewBox="0 0 1052 40">
  <path d="M 917.1 9.1 L 917.5 9.4 L 918.0 9.9 L 918.7 10.4 L 919.4 11.0 L 920.2 11.6 L 920.9 12.1 L 921.6 12.4 L 922.3 12.7 L 923.1 13.0 L 923.8 13.3 L 924.5 13.5 L 925.2 13.7 L 925.8 13.8 L 926.4 13.9 L 927.0 13.9 L 927.4 13.9 L 927.7 13.9 L 928.0 13.9 L 928.3 12.7 L 928.1 12.5 L 927.8 12.3 L 927.5 12.1 L 927.1 11.9 L 926.8 11.6 L 926.5 11.3 L 926.1 10.8 L 925.7 10.4 L 925.2 9.8 L 924.7 9.2 L 924.2 8.7 L 923.7 8.2 L 923.1 7.7 L 922.4 7.1 L 921.6 6.6 L 920.9 6.1 L 920.3 5.7 L 919.9 5.4 Z" fill="#5c1fc4"/><circle cx="918.47" cy="7.24" r="2.29" fill="#5c1fc4"/><path d="M 927.3 8.3 L 927.3 8.6 L 927.5 9.1 L 927.6 9.6 L 927.7 10.1 L 927.8 10.6 L 927.9 10.9 L 927.9 11.2 L 927.9 11.6 L 927.8 12.0 L 927.7 12.4 L 927.7 12.7 L 927.6 13.0 L 928.7 13.5 L 928.9 13.3 L 929.1 13.0 L 929.4 12.7 L 929.7 12.3 L 930.0 11.8 L 930.2 11.2 L 930.2 10.5 L 930.3 9.9 L 930.2 9.2 L 930.2 8.7 L 930.2 8.2 L 930.2 7.9 Z" fill="#5c1fc4"/><circle cx="928.71" cy="8.10" r="1.46" fill="#5c1fc4"/><path d="M 934.5 7.6 L 934.2 7.9 L 933.8 8.3 L 933.4 8.8 L 932.9 9.4 L 932.5 9.9 L 932.1 10.5 L 931.8 11.1 L 931.5 11.7 L 931.3 12.4 L 931.1 13.0 L 930.9 13.6 L 930.8 13.9 L 931.9 14.7 L 932.2 14.4 L 932.6 14.0 L 933.1 13.6 L 933.6 13.1 L 934.1 12.6 L 934.5 12.2 L 934.9 11.7 L 935.3 11.2 L 935.7 10.6 L 936.1 10.1 L 936.4 9.6 L 936.6 9.3 Z" fill="#f1437a"/><circle cx="935.52" cy="8.47" r="1.36" fill="#f1437a"/><path d="M 935.3 15.0 L 935.0 15.0 L 934.7 15.0 L 934.3 14.9 L 934.0 14.9 L 933.6 14.8 L 933.4 14.8 L 933.2 14.7 L 933.0 14.5 L 932.6 14.4 L 932.3 14.1 L 932.0 13.9 L 931.8 13.8 L 930.9 14.8 L 931.0 15.0 L 931.2 15.3 L 931.5 15.6 L 931.8 16.0 L 932.1 16.3 L 932.6 16.7 L 933.1 16.9 L 933.6 17.0 L 934.1 17.0 L 934.5 17.1 L 934.8 17.1 L 935.0 17.1 Z" fill="#f1437a"/><circle cx="935.15" cy="16.07" r="1.04" fill="#f1437a"/><path d="M 917.3 18.0 L 917.8 17.9 L 918.4 17.8 L 919.1 17.7 L 919.9 17.6 L 920.6 17.5 L 921.1 17.4 L 921.5 17.3 L 922.1 17.2 L 922.7 17.2 L 923.4 17.2 L 923.9 17.1 L 924.3 17.1 L 924.7 15.5 L 924.3 15.3 L 923.9 15.1 L 923.3 14.7 L 922.6 14.4 L 921.8 14.2 L 921.0 14.0 L 920.2 14.1 L 919.3 14.2 L 918.5 14.4 L 917.7 14.6 L 917.1 14.8 L 916.7 14.9 Z" fill="#f1437a"/><circle cx="916.99" cy="16.44" r="1.56" fill="#f1437a"/><path d="M 918.9 31.4 L 919.2 31.2 L 919.7 30.8 L 920.3 30.2 L 920.9 29.6 L 921.6 28.9 L 922.2 28.1 L 922.7 27.2 L 923.3 26.2 L 923.8 25.1 L 924.3 23.9 L 924.7 22.8 L 925.1 21.7 L 925.3 20.6 L 925.4 19.6 L 925.4 18.6 L 925.4 17.7 L 925.3 17.0 L 925.3 16.5 L 923.7 16.1 L 923.4 16.6 L 923.1 17.2 L 922.7 17.9 L 922.2 18.6 L 921.8 19.4 L 921.3 20.0 L 920.7 20.7 L 920.1 21.5 L 919.4 22.3 L 918.7 23.2 L 918.0 24.0 L 917.4 24.7 L 917.0 25.3 L 916.5 26.0 L 916.1 26.6 L 915.7 27.2 L 915.4 27.8 L 915.1 28.2 Z" fill="#f1437a"/><circle cx="916.99" cy="29.82" r="2.50" fill="#f1437a"/><path d="M 929.5 24.2 L 929.5 23.9 L 929.4 23.5 L 929.3 23.0 L 929.2 22.6 L 929.2 22.2 L 929.1 21.9 L 929.1 21.7 L 929.1 21.3 L 929.1 20.9 L 929.2 20.5 L 929.2 20.1 L 929.3 19.8 L 928.1 19.2 L 928.0 19.4 L 927.7 19.7 L 927.3 20.1 L 927.0 20.5 L 926.7 21.0 L 926.4 21.6 L 926.4 22.3 L 926.4 22.9 L 926.5 23.5 L 926.5 24.0 L 926.6 24.4 L 926.7 24.7 Z" fill="#5c1fc4"/><circle cx="928.10" cy="24.42" r="1.46" fill="#5c1fc4"/><path d="M 939.8 23.3 L 939.6 23.2 L 939.4 22.9 L 939.1 22.6 L 938.7 22.3 L 938.3 21.9 L 937.9 21.6 L 937.4 21.3 L 936.8 20.9 L 936.1 20.5 L 935.3 20.0 L 934.4 19.6 L 933.6 19.2 L 932.6 19.0 L 931.7 18.9 L 930.8 18.9 L 930.0 18.9 L 929.4 18.9 L 928.9 18.9 L 928.5 20.1 L 928.9 20.4 L 929.5 20.7 L 930.1 21.1 L 930.8 21.6 L 931.4 22.1 L 931.8 22.5 L 932.3 22.9 L 932.7 23.4 L 933.2 24.0 L 933.8 24.6 L 934.3 25.1 L 934.9 25.6 L 935.4 26.0 L 935.9 26.3 L 936.4 26.5 L 936.8 26.7 L 937.1 26.8 L 937.4 27.0 Z" fill="#5c1fc4"/><circle cx="938.59" cy="25.15" r="2.19" fill="#5c1fc4"/>
</svg>
<div class="logo">AhaSlides</div>

<!-- chart -->
<div class="bar" style="left:382.5px;background:#ff4081;"></div>
<div class="bar" style="left:545px;background:#1de9b6;"></div>
<div class="bar" style="left:707.5px;background:#ff8a65;"></div>
<div class="axis"></div>
<div class="val" style="left:350.5px;top:280.5px;">33.33%</div>
<div class="val" style="left:513px;top:280.5px;">33.33%</div>
<div class="val" style="left:675.5px;top:280.5px;">33.33%</div>
<div class="val" style="left:838.5px;top:421.6px;letter-spacing:1.5px">0%</div>
<div class="lab" style="left:350.5px;letter-spacing:.8px">Communication</div>
<div class="lab" style="left:513px;letter-spacing:.73px">Leadership</div>
<div class="lab" style="left:676px;letter-spacing:1.02px">Problem-solving</div>
<div class="lab" style="left:838.5px;letter-spacing:.7px">Time<br><span style="letter-spacing:1px">management</span></div>

<!-- pager -->
<div class="pager"></div>
<div class="pbox">2</div>
<svg class="art" width="1052" height="587" viewBox="0 0 1052 587" style="pointer-events:none">
  <g fill="none" stroke="#333" stroke-width="2" stroke-linecap="round" stroke-linejoin="round">
    <path d="M31.5 552.2 L27 556.6 L31.5 561"/>
    <path d="M90.5 552.2 L95 556.6 L90.5 561"/>
  </g>
</svg>

<!-- reactions -->
<div class="react"></div>
<svg class="art" width="1052" height="587" viewBox="0 0 1052 587">
  <defs>
    <linearGradient id="lk" x1="0" y1="0" x2="0" y2="1"><stop offset="0" stop-color="#45a8f2"/><stop offset="1" stop-color="#2a8fe6"/></linearGradient>
    <linearGradient id="ht" x1="0" y1="0" x2="0" y2="1"><stop offset="0" stop-color="#f7708a"/><stop offset="1" stop-color="#ee4f72"/></linearGradient>
    <linearGradient id="em" x1="0" y1="0" x2="0" y2="1"><stop offset="0" stop-color="#fbd070"/><stop offset="1" stop-color="#f4b860"/></linearGradient>
  </defs>
  <!-- like -->
  <circle cx="803" cy="556.5" r="9" fill="url(#lk)"/>
  <rect x="798.2" y="554" width="1.9" height="6.9" rx=".6" fill="#fff"/>
  <path d="M801.3 560.9 L801.3 555.4 C802.5 554 803.3 552 803.9 550.4 C805.3 550 805.9 551.5 805.3 553.4 L807.8 553.5 C809.2 553.7 809.4 555 809.1 556 L808.2 559.8 C808 560.6 807.4 560.9 806.6 560.9 Z" fill="#fff"/>
  <!-- heart -->
  <circle cx="845.1" cy="556.5" r="9.1" fill="url(#ht)"/>
  <path d="M845.1 562 C842.5 560 839.8 557.8 839.8 555 C839.8 553 841.2 551.7 842.8 551.7 C843.8 551.7 844.7 552.3 845.1 553.1 C845.5 552.3 846.4 551.7 847.4 551.7 C849 551.7 850.4 553 850.4 555 C850.4 557.8 847.7 560 845.1 562 Z" fill="#fff"/>
  <!-- laugh -->
  <circle cx="887.2" cy="556.5" r="9.1" fill="url(#em)"/>
  <path d="M881.6 557 L892.8 557 C892.8 560.6 890.4 563 887.2 563 C884 563 881.6 560.6 881.6 557 Z" fill="#2c2233"/>
  <path d="M884.2 561.6 Q887.2 559.6 890.2 561.6 Q887.2 563.6 884.2 561.6 Z" fill="#f0566f"/>
  <g fill="none" stroke="#2c2233" stroke-width="1.1" stroke-linecap="round" stroke-linejoin="round">
    <path d="M881.8 551.6 L884.8 553.2 L881.8 554.6"/>
    <path d="M892.6 551.6 L889.6 553.2 L892.6 554.6"/>
  </g>
  <!-- cry -->
  <circle cx="929.1" cy="556.4" r="9" fill="url(#em)"/>
  <ellipse cx="925.6" cy="555.6" rx="1.1" ry="1.5" fill="#2c2233"/>
  <ellipse cx="932.6" cy="555.6" rx="1.1" ry="1.5" fill="#2c2233"/>
  <g fill="none" stroke="#2c2233" stroke-width="1" stroke-linecap="round">
    <path d="M923.6 552.8 L926.6 551.8"/><path d="M934.6 552.8 L931.6 551.8"/>
    <path d="M926.8 561 Q929.1 558.6 931.4 561"/>
  </g>
  <path d="M934.6 560.4 Q936.6 563 935.8 564.6 Q934.6 565.8 933.5 564.6 Q932.8 563 934.6 560.4 Z" fill="#4aa3ea"/>
  <!-- hand -->
  <g fill="#333">
    <rect x="968.3" y="550.6" width="2.3" height="8" rx="1.1"/>
    <rect x="970.6" y="549" width="2.3" height="9" rx="1.1"/>
    <rect x="972.9" y="548.7" width="2.3" height="9" rx="1.1"/>
    <rect x="975.2" y="550" width="2.3" height="8" rx="1.1"/>
    <path d="M968.4 556 L977.3 556 L978.6 558 L978.4 561 Q977.4 564.2 973.8 564.2 Q970.6 564.2 968.6 561.4 L965.6 556.6 Q965.6 555 967.2 555.6 Z"/>
  </g>
  <!-- person -->
  <circle cx="1008.2" cy="552.6" r="3.5" fill="#333"/>
  <path d="M1001.8 564 L1001.8 561.4 Q1002.2 557.6 1006 557.6 L1010.4 557.6 Q1014.2 557.6 1014.6 561.4 L1014.6 564 Z" fill="#333"/>
  <circle cx="1014.6" cy="562.1" r="3" fill="#fefcf6"/>
  <circle cx="1014.6" cy="562.1" r="2.3" fill="#9b9b9b"/>
</svg>
<div class="cnt" style="left:816.4px;">7</div>
<div class="cnt" style="left:858.5px;">1</div>
<div class="cnt" style="left:900.2px;">3</div>
<div class="cnt" style="left:942.6px;">1</div>
<div class="cnt" style="left:982.2px;">3</div>
<div class="cnt" style="left:1019.8px;">0</div>
</body>
</html>
